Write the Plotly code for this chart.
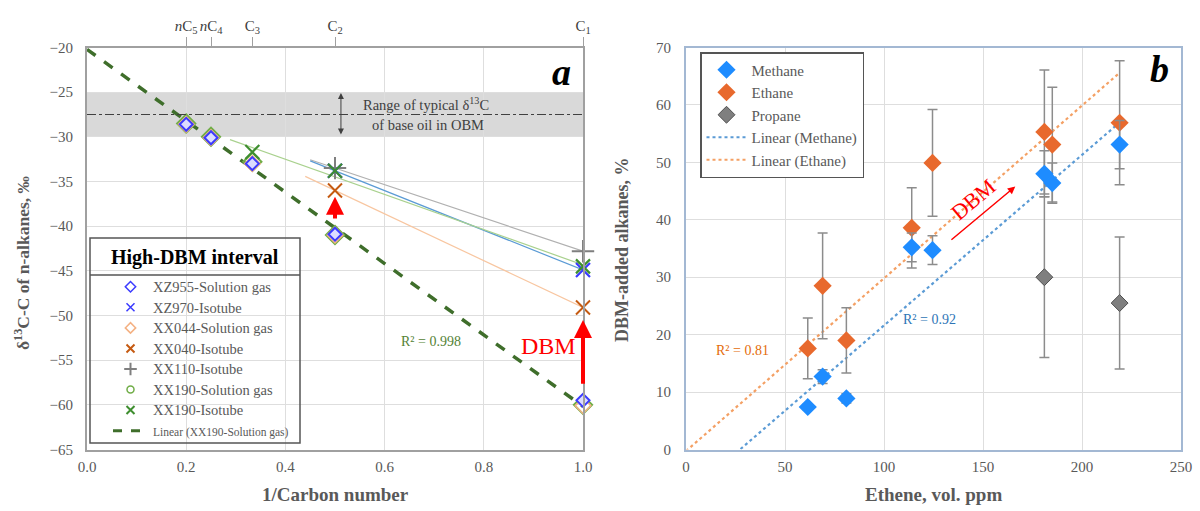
import numpy as np
import plotly.graph_objects as go

W, H = 1200, 511
def px(x): return x / W
def py(y): return 1 - y / H

# ---------------- Panel a data ----------------
inv_cn = [0.2, 0.25, 1/3, 0.5, 1.0]
top_tick_vals = [0.2, 0.25, 1/3, 0.5, 1.0]
top_tick_text = ["<i>n</i>C<sub>5</sub>", "<i>n</i>C<sub>4</sub>", "C<sub>3</sub>", "C<sub>2</sub>", "C<sub>1</sub>"]

xz955_sol = [-28.6, -30.1, -33.0, -40.9, -59.5]
xx044_sol = [-28.6, -30.1, -33.0, -41.0, -60.1]
xx190_sol = [-28.5, -30.0, -32.8, -41.0, -60.0]

xz970_x = [0.5, 1.0];        xz970_iso = [-33.8, -44.9]
xx040_x = [0.5, 1.0];        xx040_iso = [-36.0, -49.1]
xx110_x = [0.5, 1.0];        xx110_iso = [-33.5, -42.8]
xx190i_x = [1/3, 0.5, 1.0];  xx190_iso = [-31.7, -33.8, -44.5]

band = [-25, -30]
base_oil_mean = -27.5

# ---------------- Panel b data ----------------
ethene = [61.5, 69, 81, 114, 124.5, 181, 185, 219]
methane = [7.4, 12.7, 8.9, 35.2, 34.7, 48.0, 46.4, 53.1]
methane_err = [0.5, 1.2, 0.8, 2.5, 2.5, 4.0, 3.5, 4.2]
ethane = [17.6, 28.5, 19.0, 38.6, 49.9, 55.3, 53.1, 56.9]
ethane_err = [5.3, 9.2, 5.7, 7.0, 9.3, 10.8, 10.0, 10.8]
propane_x = [181, 219]
propane = [30.0, 25.5]
propane_err = [14.0, 11.5]
# trendline coefficients (slope, intercept) as shown in the chart
methane_fit = (0.297, -8.1)
ethane_fit = (0.3008, -0.27)

SERIF = "Liberation Serif, Times New Roman, serif"
GRAY_TXT = "#595959"

fig = go.Figure()

# ---- panel a trend lines (thin) ----
def add_trend(xs, ys, color, width=1.2, back=0.05):
    m, b = np.polyfit(xs, ys, 1)
    tx = np.array([min(xs) - back, max(xs)])
    fig.add_trace(go.Scatter(x=tx, y=m * tx + b, mode="lines", line=dict(color=color, width=width),
                             showlegend=False, hoverinfo="skip", xaxis="x", yaxis="y"))

add_trend(xx110_x, xx110_iso, "#b0b0b0")
add_trend(xz970_x, xz970_iso, "#5b9bd5")
add_trend(xx190i_x, xx190_iso, "#a9d18e", back=0.045)
add_trend(xx040_x, xx040_iso, "#f8c6a0", back=0.06)

# dashed linear fit of XX190 solution gas
m, b = np.polyfit(inv_cn, xx190_sol, 1)
lx = np.array([0.0, 1.0])
fig.add_trace(go.Scatter(x=lx, y=m * lx + b, mode="lines", showlegend=False,
                         line=dict(color="#3f6e2b", width=3.5, dash="dash"), xaxis="x", yaxis="y"))

def pt(x, y, name, marker):
    fig.add_trace(go.Scatter(x=x, y=y, mode="markers", name=name, marker=marker, showlegend=False,
                             cliponaxis=False, xaxis="x", yaxis="y"))

pt(inv_cn, xx190_sol, "XX190-Solution gas", dict(symbol="diamond-open", size=14, color="#70ad47", line=dict(width=2)))
pt(inv_cn, xx044_sol, "XX044-Solution gas", dict(symbol="diamond-open", size=12, color="#f4b183", line=dict(width=1.5)))
pt(inv_cn, xz955_sol, "XZ955-Solution gas", dict(symbol="diamond", size=10, color="#dcdcff", line=dict(width=2, color="#3b3bff")))
pt(xx040_x, xx040_iso, "XX040-Isotube", dict(symbol="x-thin", size=14, line=dict(width=2, color="#c55a11")))
pt(xx110_x, xx110_iso, "XX110-Isotube", dict(symbol="cross-thin", size=16, line=dict(width=2, color="#7f7f7f")))
pt(xz970_x, xz970_iso, "XZ970-Isotube", dict(symbol="x-thin", size=14, line=dict(width=2.2, color="#3b3bff")))
pt(xx190i_x, xx190_iso, "XX190-Isotube", dict(symbol="x-thin", size=14, line=dict(width=2.2, color="#3e8e2f")))

# legend entries for panel a (small symbols, like the reference legend)
leg_a = [
    ("XZ955-Solution gas", dict(symbol="diamond-open", size=8, color="#3b3bff", line=dict(width=1.5))),
    ("XZ970-Isotube", dict(symbol="x-thin", size=8, line=dict(width=1.5, color="#3b3bff"))),
    ("XX044-Solution gas", dict(symbol="diamond-open", size=8, color="#f4b183", line=dict(width=1.5))),
    ("XX040-Isotube", dict(symbol="x-thin", size=8, line=dict(width=2, color="#c55a11"))),
    ("XX110-Isotube", dict(symbol="cross-thin", size=9, line=dict(width=2, color="#7f7f7f"))),
    ("XX190-Solution gas", dict(symbol="circle-open", size=7, color="#70ad47", line=dict(width=1.5))),
    ("XX190-Isotube", dict(symbol="x-thin", size=8, line=dict(width=2, color="#3e8e2f"))),
]
for nm, mk in leg_a:
    fig.add_trace(go.Scatter(x=[None], y=[None], mode="markers",
                             name=f"<span style='font-size:14.5px'>{nm}</span>", marker=mk, legend="legend",
                             xaxis="x", yaxis="y"))
fig.add_trace(go.Scatter(x=[None], y=[None], mode="lines",
                         name="<span style='font-size:11.5px'>Linear (XX190-Solution gas)</span>",
                         line=dict(color="#3f6e2b", width=3, dash="dash"), legend="legend", xaxis="x", yaxis="y"))

# invisible trace for top axis
fig.add_trace(go.Scatter(x=top_tick_vals, y=[None] * len(top_tick_vals), mode="markers",
                         showlegend=False, hoverinfo="skip", xaxis="x2", yaxis="y"))

# ---- panel b ----
tx = np.array([0.0, max(ethene)])
err_style = dict(type="data", color="#8c8c8c", thickness=1.5, width=5)
fig.add_trace(go.Scatter(x=tx, y=methane_fit[0] * tx + methane_fit[1], mode="lines", name="Linear (Methane)",
                         line=dict(color="#5b9bd5", width=2.2, dash="dot"), legend="legend2", legendrank=4,
                         xaxis="x3", yaxis="y3"))
fig.add_trace(go.Scatter(x=tx, y=ethane_fit[0] * tx + ethane_fit[1], mode="lines", name="Linear (Ethane)",
                         line=dict(color="#f4a064", width=2.2, dash="dot"), legend="legend2", legendrank=5,
                         xaxis="x3", yaxis="y3"))
fig.add_trace(go.Scatter(x=propane_x, y=propane, mode="markers", name="Propane",
                         error_y=dict(array=propane_err, **err_style),
                         marker=dict(symbol="diamond", size=13, color="#7f7f7f", line=dict(width=1, color="#505050")),
                         legend="legend2", legendrank=3, xaxis="x3", yaxis="y3"))
fig.add_trace(go.Scatter(x=ethene, y=ethane, mode="markers", name="Ethane",
                         error_y=dict(array=ethane_err, **err_style),
                         marker=dict(symbol="diamond", size=14, color="#e8692d"),
                         legend="legend2", legendrank=2, xaxis="x3", yaxis="y3"))
fig.add_trace(go.Scatter(x=ethene, y=methane, mode="markers", name="Methane",
                         error_y=dict(array=methane_err, **err_style),
                         marker=dict(symbol="diamond", size=14, color="#1e8cff"),
                         legend="legend2", legendrank=1, xaxis="x3", yaxis="y3"))

tickfont = dict(family=SERIF, size=15, color=GRAY_TXT)
dom_y = [py(449.5), py(47.5)]
dom_xa = [px(87), px(583)]
dom_xb = [px(686), px(1181)]
grid = "#dedede"

fig.update_layout(
    width=W, height=H, margin=dict(l=0, r=0, t=0, b=0, autoexpand=False),
    font=dict(family=SERIF, size=15, color=GRAY_TXT),
    paper_bgcolor="white", plot_bgcolor="white",
    xaxis=dict(domain=dom_xa, range=[0, 1], dtick=0.2, tickformat=".1f", showgrid=True, gridcolor=grid,
               gridwidth=1.2, showline=True, linecolor="#a0a0a0", linewidth=2, mirror=True, zeroline=False,
               tickfont=tickfont, ticks="outside", ticklen=2, tickcolor="white", anchor="y", automargin=False),
    xaxis2=dict(overlaying="x", side="top", range=[0, 1], tickvals=top_tick_vals, ticktext=top_tick_text,
                ticks="outside", ticklen=9, tickcolor="#a0a0a0", tickwidth=1.2, showgrid=False, zeroline=False,
                showline=True, linecolor="#a0a0a0", linewidth=2, tickangle=0,
                tickfont=dict(family=SERIF, size=15, color="#404040"), anchor="y", automargin=False),
    yaxis=dict(domain=dom_y, range=[-65, -20], dtick=5, showgrid=True, gridcolor=grid, gridwidth=1.2,
               showline=True, linecolor="#a0a0a0", linewidth=2, mirror=True, zeroline=False,
               tickfont=tickfont, ticks="outside", ticklen=9, tickcolor="white", anchor="x", automargin=False),
    xaxis3=dict(domain=dom_xb, range=[0, 250], dtick=50, showgrid=True, gridcolor=grid, gridwidth=1.2,
                showline=True, linecolor="#a3b8d3", linewidth=2, mirror=True, zeroline=False,
                tickfont=tickfont, ticks="outside", ticklen=2, tickcolor="white", anchor="y3", automargin=False),
    yaxis3=dict(domain=dom_y, range=[0, 70], dtick=10, showgrid=True, gridcolor=grid, gridwidth=1.2,
                showline=True, linecolor="#a3b8d3", linewidth=2, mirror=True, zeroline=False,
                tickfont=tickfont, ticks="outside", ticklen=10, tickcolor="white", anchor="x3", automargin=False),
    legend=dict(x=px(108), y=py(271.5), xanchor="left", yanchor="top", bgcolor="rgba(255,255,255,0)",
                borderwidth=0, font=dict(family=SERIF, size=13.5, color=GRAY_TXT), traceorder="normal",
                tracegroupgap=0, itemwidth=35),
    legend2=dict(x=px(700), y=py(52), xanchor="left", yanchor="top", bgcolor="white",
                 bordercolor="#555555", borderwidth=1.5, font=dict(family=SERIF, size=15, color=GRAY_TXT),
                 traceorder="normal", itemwidth=40),
    showlegend=True,
)

# shapes
fig.add_shape(type="rect", xref="x", yref="y", x0=0, x1=1, y0=band[1], y1=band[0],
              fillcolor="#d9d9d9", line=dict(width=0), layer="below")
fig.add_shape(type="line", xref="x", yref="y", x0=0, x1=1, y0=base_oil_mean, y1=base_oil_mean,
              line=dict(color="#404040", width=1.2, dash="dashdot"))
# legend a frame & title separator
fig.add_shape(type="rect", xref="paper", yref="paper", x0=px(90), x1=px(300), y0=py(443), y1=py(238),
              line=dict(color="#555555", width=1.5), fillcolor="rgba(0,0,0,0)")
fig.add_shape(type="line", xref="paper", yref="paper", x0=px(90), x1=px(300), y0=py(275), y1=py(275),
              line=dict(color="#555555", width=1.5))

C = dict(xanchor="center", yanchor="middle", showarrow=False)
ann = []
ann.append(dict(xref="paper", yref="paper", x=px(195), y=py(257), text="<b>High-DBM interval</b>",
                font=dict(family=SERIF, size=20, color="black"), **C))
# double arrow for range
ann.append(dict(xref="x", yref="y", axref="x", ayref="y", x=0.512, y=-25.1, ax=0.512, ay=-29.9, text="",
                showarrow=True, arrowhead=2, arrowside="end+start", arrowsize=1.2, arrowwidth=1, arrowcolor="#404040"))
ann.append(dict(xref="x", yref="y", x=0.683, y=-26.3, text="Range of typical δ<sup>13</sup>C",
                font=dict(family=SERIF, size=14.5, color="#404040"), **C))
ann.append(dict(xref="x", yref="y", x=0.687, y=-28.7, text="of base oil in OBM",
                font=dict(family=SERIF, size=14.5, color="#404040"), **C))
# red DBM arrows
ann.append(dict(xref="x", yref="y", axref="x", ayref="y", x=0.5, y=-36.7, ax=0.5, ay=-39.3, text="",
                showarrow=True, arrowhead=2, arrowsize=0.9, arrowwidth=4, arrowcolor="#ff0000"))
ann.append(dict(xref="x", yref="y", axref="x", ayref="y", x=1.0, y=-50.5, ax=1.0, ay=-57.8, text="",
                showarrow=True, arrowhead=2, arrowsize=0.9, arrowwidth=4, arrowcolor="#ff0000"))
ann.append(dict(xref="x", yref="y", x=0.93, y=-53.4, text="DBM",
                font=dict(family=SERIF, size=24, color="#ff0000"), **C))
ann.append(dict(xref="x", yref="y", x=0.693, y=-52.9, text="R² = 0.998",
                font=dict(family=SERIF, size=14, color="#548235"), **C))
ann.append(dict(xref="x", yref="y", x=0.957, y=-22.7, text="<b><i>a</i></b>",
                font=dict(family=SERIF, size=38, color="black"), **C))
# axis titles
ann.append(dict(xref="paper", yref="paper", x=px(335), y=py(494), text="<b>1/Carbon number</b>",
                font=dict(family=SERIF, size=19, color=GRAY_TXT), **C))
ann.append(dict(xref="paper", yref="paper", x=px(22), y=py(263), textangle=-90,
                text="<b>δ<sup>13</sup>C-C of n-alkanes, ‰</b>",
                font=dict(family=SERIF, size=17.5, color=GRAY_TXT), **C))
ann.append(dict(xref="paper", yref="paper", x=px(933), y=py(494), text="<b>Ethene, vol. ppm</b>",
                font=dict(family=SERIF, size=19, color=GRAY_TXT), **C))
ann.append(dict(xref="paper", yref="paper", x=px(622), y=py(250), textangle=-90,
                text="<b>DBM-added alkanes, %</b>",
                font=dict(family=SERIF, size=18, color=GRAY_TXT), **C))
# panel b texts
ann.append(dict(xref="x3", yref="y3", x=28.5, y=17.2, text="R² = 0.81",
                font=dict(family=SERIF, size=14, color="#e46c0a"), **C))
ann.append(dict(xref="x3", yref="y3", x=123, y=22.6, text="R² = 0.92",
                font=dict(family=SERIF, size=14, color="#2e75b6"), **C))
ann.append(dict(xref="x3", yref="y3", axref="x3", ayref="y3", x=166.3, y=45.8, ax=133.3, ay=36.3, text="",
                showarrow=True, arrowhead=2, arrowsize=1, arrowwidth=1.5, arrowcolor="#ff0000"))
ann.append(dict(xref="x3", yref="y3", x=145, y=43.6, text="DBM", textangle=-40,
                font=dict(family=SERIF, size=22, color="#ff0000"), **C))
ann.append(dict(xref="x3", yref="y3", x=239, y=66.2, text="<b><i>b</i></b>",
                font=dict(family=SERIF, size=38, color="black"), **C))
fig.update_layout(annotations=ann)

fig.write_html("out.html", config={"displayModeBar": False},
               post_script="document.body.style.margin='0px';document.body.style.overflow='hidden';")
